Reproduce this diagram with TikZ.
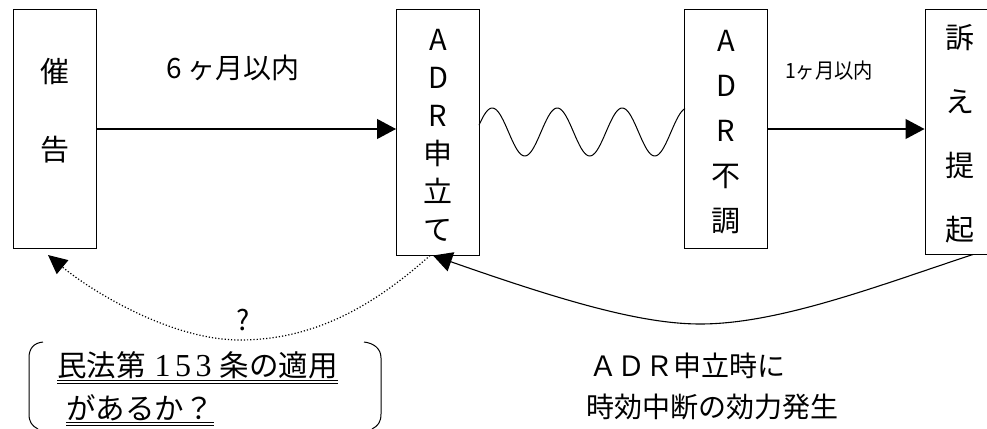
\documentclass[tikz,border=0pt]{standalone}
\usepackage{graphicx}
\usepackage{fontspec}
\setmainfont{Noto Sans CJK JP}
\newfontfamily\numserif{Liberation Serif}
\usetikzlibrary{arrows.meta,calc}
\tikzset{
  box/.style={draw, line width=1pt, inner sep=0pt, minimum width=83pt},
  vtext/.style={align=center, inner sep=0pt},
  arr/.style={line width=1.1pt, -{Triangle[length=19pt,width=20pt]}},
  darr/.style={line width=1.2pt, dotted, -{Triangle[length=19pt,width=18pt]}},
  lbl/.style={inner sep=0pt, font=\fontsize{28}{28}\selectfont},
  big/.style={inner sep=0pt, anchor=west, font=\fontsize{28}{28}\selectfont},
  bigq/.style={inner sep=0pt, anchor=west, font=\fontsize{29.5}{29.5}\selectfont},
  uline/.style={line width=1pt}
}
\begin{document}
\begin{tikzpicture}[x=1pt,y=-1pt]
\useasboundingbox (0,0) rectangle (987,428);
% boxes
\node[box, minimum height=238pt] (b1) at (54.5,129) {};
\node[box, minimum height=245pt] (b2) at (438,132.5) {};
\node[box, minimum height=238pt] (b3) at (726,129) {};
\node[box, minimum width=70pt, minimum height=244pt] (b4) at (960,132) {};
% box texts
\node[vtext, font=\fontsize{29}{78}\selectfont] (t1) at (54.5,111) {催\\告};
\node[vtext, font=\fontsize{29}{38}\selectfont] (t2) at (438,135) {A\\D\\R\\申\\立\\て};
\node[vtext, font=\fontsize{29}{45}\selectfont] (t3) at (726,132) {A\\D\\R\\不\\調};
\node[vtext, font=\fontsize{29}{64}\selectfont] (t4) at (960,134) {訴\\え\\提\\起};
% top connectors
\draw[arr] (b1.east) -- (b1.east -| b2.west);
\draw[arr] (b3.east) -- (b3.east -| b4.west);
\node[lbl] (m1) at (233,68) {6 ヶ月以内};
\node[inner sep=0pt] (m2) at (829,71) {\scalebox{0.92}[1]{\fontsize{21}{21}\selectfont 1ヶ月以内}};
% wave between ADR boxes
\draw[line width=1pt] plot[domain=479:685, samples=120, smooth] (\x, {132-24*sin(5.5385*(\x-476))});
% solid return curve
\coordinate (s4) at ($(b4.south)+(13,0)$);
\draw[arr] (s4) .. controls (880,285) and (780,324) .. (700,324)
  .. controls (640,324) and (560,300) .. ($(b2.south)+(-5,0)$);
% dotted question curve
\coordinate (s2) at ($(b2.south)+(-8,0)$);
\coordinate (e1) at (48,255);
\draw[darr] (s2) .. controls (380,300) and (320,340) .. (240,340)
  .. controls (170,340) and (90,290) .. (e1);
\node[lbl] (q) at (243,320) {?};
% bracketed question
\draw[line width=1pt] (43,342) .. controls (34,343) and (29,348) .. (29,358) -- (29,414) .. controls (29,422) and (32,426) .. (38,429);
\draw[line width=1pt] (364,342) .. controls (373,343) and (381,348) .. (381,358) -- (381,414) .. controls (381,422) and (378,426) .. (372,429);
\node[bigq] (l1) at (57,365) {民法第\hspace{9pt}{\numserif\fontsize{32}{32}\selectfont 1\hspace{4.5pt}5\hspace{4.5pt}3}\hspace{8pt}条の適用};
\node[bigq] (l2) at (66,408) {があるか？};
\draw[uline] (l1.west |- 0,380) -- (l1.east |- 0,380);
\draw[uline] (l1.west |- 0,383.5) -- (l1.east |- 0,383.5);
\draw[uline] (l2.west |- 0,422) -- (l2.east |- 0,422);
\draw[uline] (l2.west |- 0,425.5) -- (l2.east |- 0,425.5);
% effect text
\node[big] (r1) at (589,366) {ＡＤＲ申立時に};
\node[big] (r2) at (586,407) {時効中断の効力発生};
\end{tikzpicture}
\end{document}
